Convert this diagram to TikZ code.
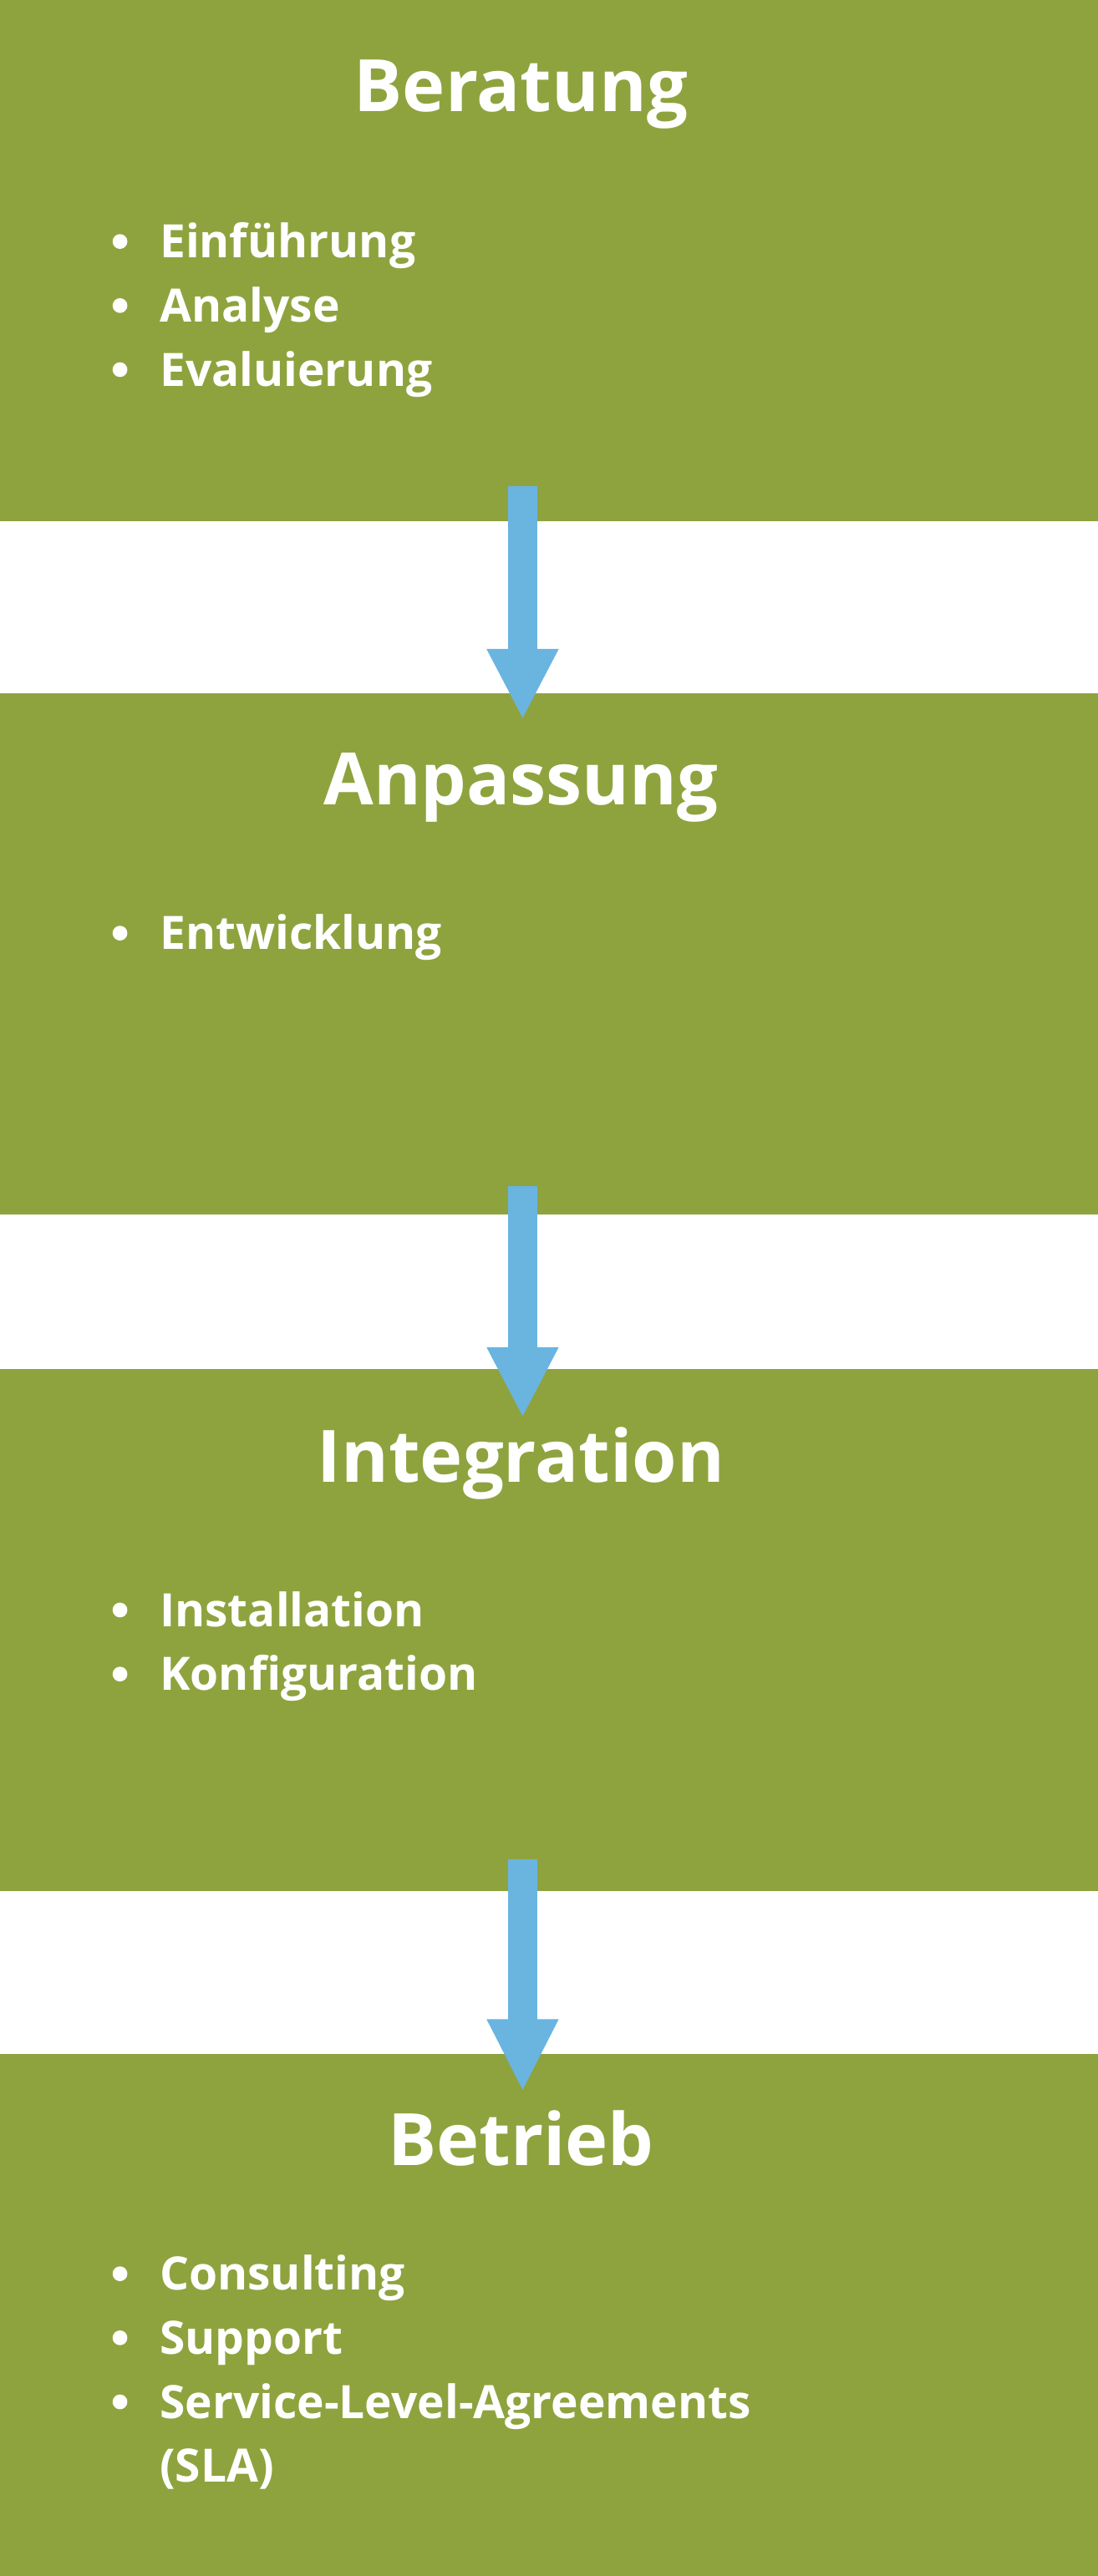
\documentclass[tikz,border=0pt]{standalone}
\usepackage{fontspec}
\setmainfont{Open Sans}
\definecolor{grn}{HTML}{8EA33E}
\definecolor{blu}{HTML}{6AB4E0}
\begin{document}
\begin{tikzpicture}[x=1pt,y=-1pt,
 box/.style={fill=grn,draw=none,minimum width=668pt,inner sep=0pt,anchor=north west},
 ttl/.style={text=white,font=\bfseries\fontsize{44}{50}\selectfont,anchor=base,inner sep=0pt},
 itm/.style={text=white,font=\bfseries\fontsize{28}{33}\selectfont,anchor=base west,inner sep=0pt},
 dot/.style={circle,fill=white,minimum size=9pt,inner sep=0pt}]
\useasboundingbox (0,0) rectangle (668,1568);
\node[box,minimum height=317pt] (b1) at (0,0) {};
\node[box,minimum height=317pt] (b2) at (0,422) {};
\node[box,minimum height=318pt] (b3) at (0,833) {};
\node[box,minimum height=318pt] (b4) at (0,1250) {};
\foreach \s/\t/\h in {296/437/395, 722/862/820, 1132/1272/1229}{
 \fill[blu] (309,\s) rectangle (327,\h+1);
 \fill[blu] (296,\h) -- (340,\h) -- (318,\t) -- cycle;}
\node[ttl] (t1) at (317,68) {Beratung};
\node[ttl] (t2) at (317,490) {Anpassung};
\node[ttl] (t3) at (317,902) {Integration};
\node[ttl] (t4) at (317,1318) {Betrieb};
\foreach \y/\tx [count=\i] in {157/Einführung,196/Analyse,235/Evaluierung,578/Entwicklung,990/Installation,1029/Konfiguration,1394/Consulting,1433/Support,1472/Service-Level-Agreements}{
 \node[dot] (d\i) at (73,\y-10) {};
 \node[itm] (l\i) at (97,\y) {\tx};}
\node[itm] (l10) at (97,1511) {(SLA)};
\end{tikzpicture}
\end{document}
